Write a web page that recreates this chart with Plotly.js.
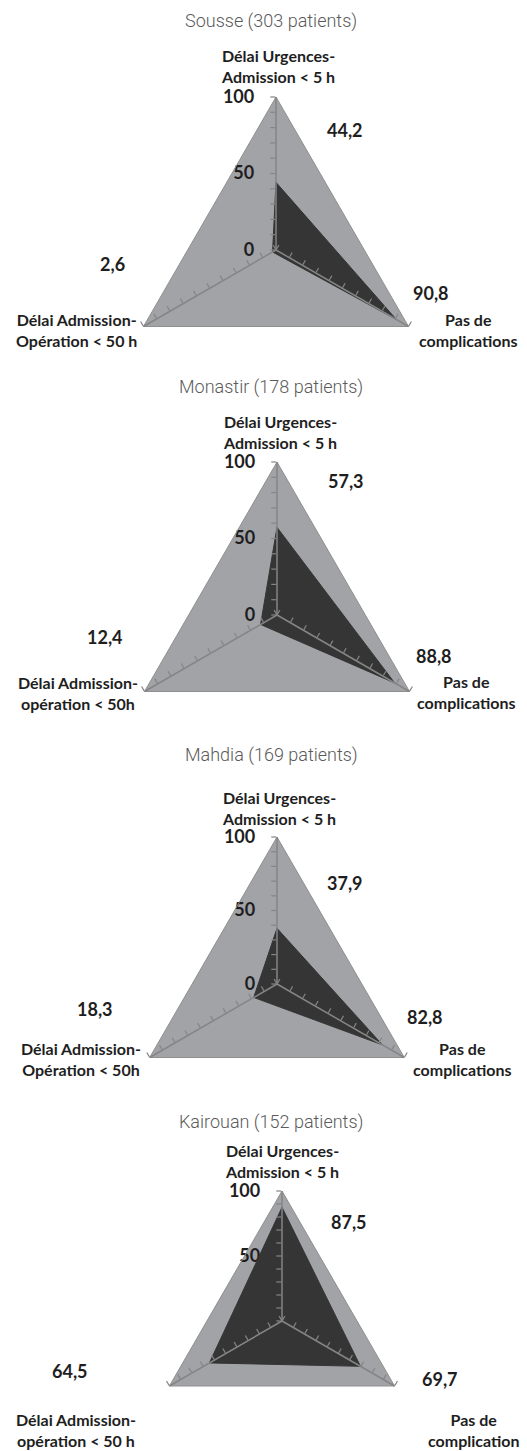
<!DOCTYPE html>
<html>
<head>
<meta charset="utf-8">
<script src="https://cdn.plot.ly/plotly-3.0.1.min.js"></script>
<style>html,body{margin:0;padding:0;background:#fff;}#chart{width:527px;height:1451px;}</style>
</head>
<body>
<div id="chart"></div>
<script>
// ---- Data ----
var regions = ["Sousse (303 patients)", "Monastir (178 patients)", "Mahdia (169 patients)", "Kairouan (152 patients)"];
var categories = ["Délai Urgences-Admission < 5 h", "Pas de complications", "Délai Admission-Opération < 50 h"];
var urgences = [44.2, 57.3, 37.9, 87.5];
var complications = [90.8, 88.8, 82.8, 69.7];
var admissionOp = [2.6, 12.4, 18.3, 64.5];
var topLabels = ["Délai Urgences-<br>Admission &lt; 5 h", "Délai Urgences-<br>Admission &lt; 5 h", "Délai Urgences-<br>Admission &lt; 5 h", "Délai Urgences-<br>Admission &lt; 5 h"];
var leftLabels = ["Délai Admission-<br>Opération &lt; 50 h", "Délai Admission-<br>opération &lt; 50h", "Délai Admission-<br>Opération &lt; 50h", "Délai Admission-<br>opération &lt; 50 h"];
var rightLabels = ["Pas de<br>complications", "Pas de<br>complications", "Pas de<br>complications", "Pas de<br>complication"];
var radialTickVals = [0, 10, 20, 30, 40, 50, 60, 70, 80, 90, 100];
var radialTickText = ["0", "", "", "", "", "50", "", "", "", "", "100"];

// ---- Layout geometry (pixels) ----
var W = 527, H = 1451;
var panels = [
  {cx: 276, cy: 250, R: 153, title: [271, 21], top: [278, 66], left: [76, 330], right: [468, 330], vu: [345, 130], vc: [431, 293], va: [112, 264]},
  {cx: 277, cy: 615, R: 153, title: [271, 387], top: [280, 432], left: [78, 693], right: [466, 692], vu: [346, 481], vc: [434, 656], va: [105, 637]},
  {cx: 277, cy: 984, R: 147, title: [271, 755], top: [279, 808], left: [81, 1059], right: [462, 1059], vu: [345, 883], vc: [425, 1017], va: [95, 1009]},
  {cx: 282, cy: 1347, R: 156, title: [271, 1122], top: [282, 1161], left: [76, 1430], right: [474, 1430], vu: [349, 1222], vc: [440, 1379], va: [70, 1371]}
];
function px(x) { return x / W; }
function py(y) { return 1 - y / H; }
function fmt(v) { return v.toFixed(1).replace('.', ','); }

var spokeColor = '#858585';
var labelFont = {family: 'Lato, "Open Sans", sans-serif', size: 16, color: '#1e1e1e', weight: 700};
var valueFont = {family: 'Lato, "Open Sans", sans-serif', size: 18, color: '#1e1e1e', weight: 700};
var titleFont = {family: 'Roboto, sans-serif', size: 18, color: '#5a5a5a', weight: 300};

var data = [];
var layout = {
  width: W, height: H,
  margin: {l: 0, r: 0, t: 0, b: 0},
  paper_bgcolor: '#ffffff',
  showlegend: false,
  annotations: []
};

var idx = 1;
panels.forEach(function (p, i) {
  var domain = {x: [px(p.cx - p.R), px(p.cx + p.R)], y: [py(p.cy + p.R), py(p.cy - p.R)]};
  var mainId = 'polar' + (idx === 1 ? '' : idx);
  // main subplot
  layout[mainId] = {
    domain: domain,
    gridshape: 'linear',
    bgcolor: '#a2a3a7',
    angularaxis: {
      type: 'category', categoryorder: 'array', categoryarray: categories,
      rotation: 90, direction: 'clockwise',
      showgrid: false, showline: true, linecolor: '#8f8f8f', linewidth: 1,
      showticklabels: false, ticks: ''
    },
    radialaxis: {
      range: [0, 100], angle: 90, side: 'counterclockwise',
      showline: false, showgrid: false,
      tickmode: 'array', tickvals: radialTickVals, ticktext: radialTickText,
      ticks: 'outside', ticklen: 15, tickcolor: 'rgba(0,0,0,0)',
      tickfont: valueFont, tickangle: 90,
      layer: 'below traces'
    }
  };
  data.push({
    type: 'scatterpolar', subplot: mainId,
    r: [urgences[i], complications[i], admissionOp[i], urgences[i]],
    theta: [categories[0], categories[1], categories[2], categories[0]],
    mode: 'lines', fill: 'toself', fillcolor: '#353535',
    line: {color: '#353535', width: 1}, hoverinfo: 'skip'
  });
  idx++;
  // overlay subplots for the three spokes with tick marks
  [[90, 'counterclockwise'], [330, 'counterclockwise'], [210, 'clockwise']].forEach(function (sp) {
    var id = 'polar' + idx;
    layout[id] = {
      domain: domain,
      gridshape: 'linear',
      bgcolor: 'rgba(0,0,0,0)',
      angularaxis: {showgrid: false, showline: false, showticklabels: false, ticks: ''},
      radialaxis: {
        range: [0, 100], angle: sp[0], side: sp[1],
        showline: true, linecolor: spokeColor, linewidth: 1.5,
        showgrid: false, showticklabels: false,
        tickmode: 'array', tickvals: radialTickVals,
        ticks: 'outside', ticklen: 5, tickcolor: spokeColor, tickwidth: 1.2,
        layer: 'above traces'
      }
    };
    data.push({type: 'scatterpolar', subplot: id, r: [null], theta: [null], mode: 'markers', hoverinfo: 'skip'});
    idx++;
  });

  // annotations
  var A = layout.annotations;
  A.push({text: regions[i], x: px(p.title[0]), y: py(p.title[1]), xref: 'paper', yref: 'paper', xanchor: 'center', yanchor: 'middle', showarrow: false, font: titleFont});
  A.push({text: topLabels[i], x: px(p.top[0]), y: py(p.top[1]), xref: 'paper', yref: 'paper', xanchor: 'center', yanchor: 'middle', showarrow: false, font: labelFont});
  A.push({text: leftLabels[i], x: px(p.left[0]), y: py(p.left[1]), xref: 'paper', yref: 'paper', xanchor: 'center', yanchor: 'middle', showarrow: false, font: labelFont});
  A.push({text: rightLabels[i], x: px(p.right[0]), y: py(p.right[1]), xref: 'paper', yref: 'paper', xanchor: 'center', yanchor: 'middle', showarrow: false, font: labelFont});
  A.push({text: fmt(urgences[i]), x: px(p.vu[0]), y: py(p.vu[1]), xref: 'paper', yref: 'paper', xanchor: 'center', yanchor: 'middle', showarrow: false, font: valueFont});
  A.push({text: fmt(complications[i]), x: px(p.vc[0]), y: py(p.vc[1]), xref: 'paper', yref: 'paper', xanchor: 'center', yanchor: 'middle', showarrow: false, font: valueFont});
  A.push({text: fmt(admissionOp[i]), x: px(p.va[0]), y: py(p.va[1]), xref: 'paper', yref: 'paper', xanchor: 'center', yanchor: 'middle', showarrow: false, font: valueFont});
});

Plotly.newPlot('chart', data, layout, {displayModeBar: false, staticPlot: true});
</script>
</body>
</html>
